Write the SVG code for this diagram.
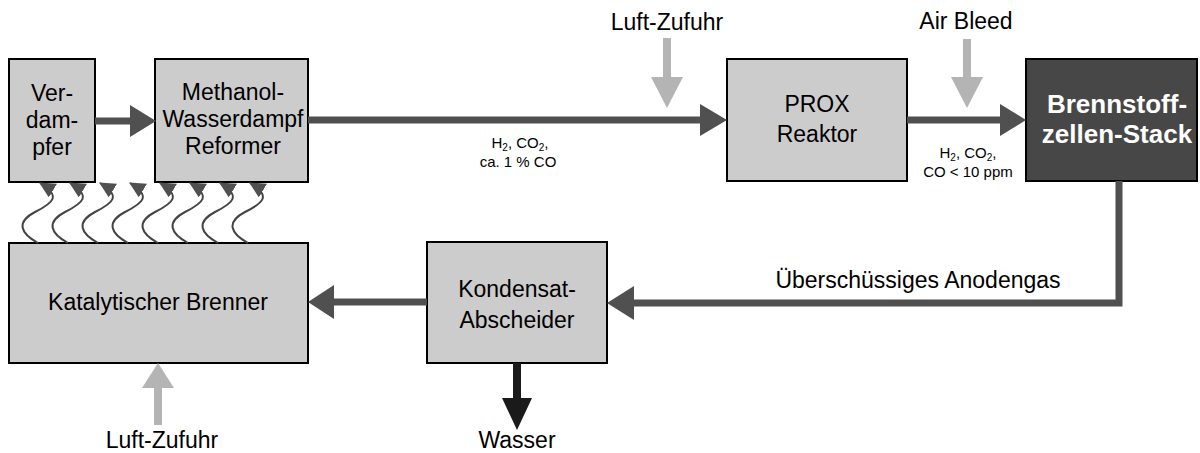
<svg xmlns="http://www.w3.org/2000/svg" width="1200" height="453" viewBox="0 0 1200 453">
<style>
.box{fill:#cccccc;stroke:#000;stroke-width:2}
.dark{fill:#474747;stroke:#000;stroke-width:2}
.t{font-family:"Liberation Sans",Arial,sans-serif;font-size:23px;fill:#000;text-anchor:middle}
.tw{font-family:"Liberation Sans",Arial,sans-serif;font-size:26px;font-weight:bold;fill:#fff;text-anchor:middle}
.s{font-family:"Liberation Sans",Arial,sans-serif;font-size:15px;fill:#000;text-anchor:middle}
.sub{font-size:10px}
.flow{stroke:#505050;stroke-width:7;fill:none}
.head{fill:#505050}
.air{stroke:#b4b4b4;stroke-width:8;fill:none}
.airhead{fill:#b4b4b4}
.water{stroke:#1a1a1a;stroke-width:8;fill:none}
.waterhead{fill:#1a1a1a}
.heat{stroke:#444;stroke-width:2;fill:none;marker-end:url(#hh)}
</style>
<defs>
<marker id="hh" markerUnits="userSpaceOnUse" markerWidth="18" markerHeight="18" refX="15" refY="8" orient="auto">
<path d="M0,0 L16,8 L0,16 Z" fill="#505050"/>
</marker>
</defs>

<g id="verdampfer">
<rect class="box" x="9" y="59" width="86" height="123"/>
<text class="t" x="52" y="101">Ver-</text>
<text class="t" x="52" y="128">dam-</text>
<text class="t" x="52" y="155">pfer</text>
</g>

<g id="reformer">
<rect class="box" x="155" y="59" width="153" height="123"/>
<text class="t" x="233" y="100">Methanol-</text>
<text class="t" x="233" y="127">Wasserdampf</text>
<text class="t" x="233" y="154">Reformer</text>
</g>

<g id="prox">
<rect class="box" x="727" y="59" width="180" height="122"/>
<text class="t" x="817" y="112">PROX</text>
<text class="t" x="817" y="142">Reaktor</text>
</g>

<g id="stack">
<rect class="dark" x="1026" y="59" width="171" height="122"/>
<text class="tw" x="1117" y="113">Brennstoff-</text>
<text class="tw" x="1117" y="143">zellen-Stack</text>
</g>

<g id="brenner">
<rect class="box" x="9" y="243" width="299" height="120"/>
<text class="t" x="158" y="310">Katalytischer Brenner</text>
</g>

<g id="kondensat">
<rect class="box" x="427" y="242" width="180" height="121"/>
<text class="t" x="517" y="297">Kondensat-</text>
<text class="t" x="517" y="328">Abscheider</text>
</g>

<g id="connectors">
<line class="flow" x1="95" y1="121" x2="132" y2="121"/>
<polygon class="head" points="130,105 156,121 130,137"/>

<line class="flow" x1="308" y1="120" x2="702" y2="120"/>
<polygon class="head" points="700,104 727,120 700,136"/>

<line class="flow" x1="907" y1="120" x2="1002" y2="120"/>
<polygon class="head" points="1000,104 1026,120 1000,136"/>

<polyline class="flow" points="1119,181 1119,303 632,303"/>
<polygon class="head" points="634,286 607,303 634,320"/>

<line class="flow" x1="427" y1="302" x2="332" y2="302"/>
<polygon class="head" points="334,285 308,302 334,319"/>

<line class="water" x1="517" y1="363" x2="517" y2="400"/>
<polygon class="waterhead" points="502,398 517,430 532,398"/>

<line class="air" x1="667" y1="38" x2="667" y2="79"/>
<polygon class="airhead" points="651,77 667,108 683,77"/>

<line class="air" x1="967" y1="39" x2="967" y2="79"/>
<polygon class="airhead" points="951,77 967,108 983,77"/>

<line class="air" x1="158" y1="425" x2="158" y2="386"/>
<polygon class="airhead" points="142,388 158,363 174,388"/>

<path class="heat" d="M38,243 C20,233 16,222 35,212 C53,203 62,196 40,183"/>
<path class="heat" d="M68,243 C50,233 46,222 65,212 C83,203 92,196 70,183"/>
<path class="heat" d="M98,243 C80,233 76,222 95,212 C113,203 122,196 100,183"/>
<path class="heat" d="M128,243 C110,233 106,222 125,212 C143,203 152,196 130,183"/>
<path class="heat" d="M158,243 C140,233 136,222 155,212 C173,203 182,196 160,183"/>
<path class="heat" d="M188,243 C170,233 166,222 185,212 C203,203 212,196 190,183"/>
<path class="heat" d="M218,243 C200,233 196,222 215,212 C233,203 242,196 220,183"/>
<path class="heat" d="M248,243 C230,233 226,222 245,212 C263,203 272,196 250,183"/>
</g>

<g id="labels">
<text class="t" x="667" y="30">Luft-Zufuhr</text>
<text class="t" x="966" y="29">Air Bleed</text>
<text class="s" x="520" y="148">H<tspan class="sub" dy="3">2</tspan><tspan dy="-3">, CO</tspan><tspan class="sub" dy="3">2</tspan><tspan dy="-3">,</tspan></text>
<text class="s" x="518" y="167">ca. 1 % CO</text>
<text class="s" x="968" y="158">H<tspan class="sub" dy="3">2</tspan><tspan dy="-3">, CO</tspan><tspan class="sub" dy="3">2</tspan><tspan dy="-3">,</tspan></text>
<text class="s" x="968" y="177">CO &lt; 10 ppm</text>
<text class="t" x="918" y="288">Überschüssiges Anodengas</text>
<text class="t" x="162" y="448">Luft-Zufuhr</text>
<text class="t" x="517" y="448">Wasser</text>
</g>
</svg>
